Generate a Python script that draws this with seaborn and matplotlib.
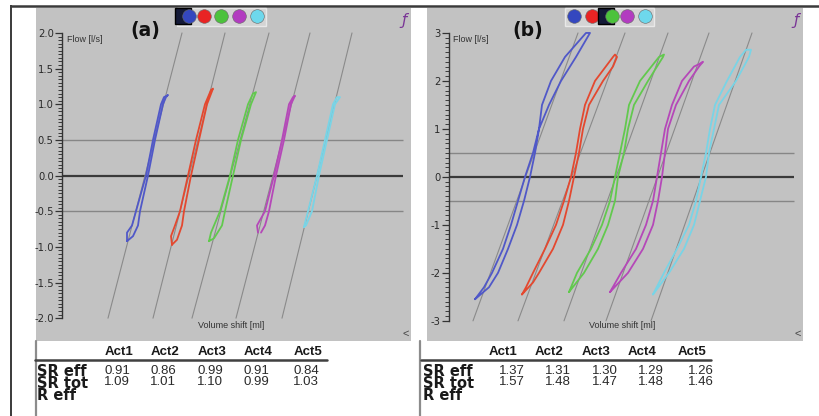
import numpy as np
import pandas as pd
import matplotlib
matplotlib.use("Agg")
import matplotlib.pyplot as plt
from matplotlib.lines import Line2D
from matplotlib.legend_handler import HandlerTuple
import seaborn as sns

# ---------------- data ----------------
ACTS = ["Act1", "Act2", "Act3", "Act4", "Act5"]
ROWS = ["SR eff", "SR tot", "R eff"]
CURVE_COLORS = ["#5058c8", "#e4482f", "#62c94e", "#b548b8", "#79d4e6"]
LEGEND_COLORS = ["#3447bf", "#e82424", "#4cc23c", "#b23cc0", "#6ed8ec"]

# panel (a)
a_yticks = [-2.0, -1.5, -1.0, -0.5, 0.0, 0.5, 1.0, 1.5, 2.0]
a_ylabels = ["-2.0", "-1.5", "-1.0", "-0.5", "0.0", "0.5", "1.0", "1.5", "2.0"]
a_thresholds = [-0.5, 0.5]
a_ref_flow = [-2.0, 2.0]
a_ref_vol_low = [46, 91, 130, 174, 220]
a_ref_vol_high = [120, 163, 207, 248, 290]
a_flow = [
    [-0.92, -0.8, -0.7, -0.5, 0.0, 0.5, 1.0, 1.1, 1.13, 1.1, 1.0, 0.5, 0.0, -0.5, -0.7, -0.85, -0.92],
    [-0.97, -0.85, -0.7, -0.5, 0.0, 0.5, 1.0, 1.2, 1.22, 1.0, 0.5, 0.0, -0.5, -0.7, -0.9, -0.97],
    [-0.92, -0.8, -0.6, -0.5, 0.0, 0.5, 1.0, 1.15, 1.17, 1.0, 0.5, 0.0, -0.5, -0.7, -0.88, -0.92],
    [-0.8, -0.7, -0.5, 0.0, 0.5, 1.0, 1.1, 1.12, 1.0, 0.5, 0.0, -0.5, -0.7, -0.8],
    [-0.72, -0.5, 0.0, 0.5, 1.0, 1.1, 1.1, 1.0, 0.5, 0.0, -0.5, -0.7, -0.72],
]
a_vol = [
    [65, 65, 70, 74, 84, 91, 99, 102, 106, 104, 101, 93, 86, 78, 76, 71, 65],
    [110, 109, 113, 118, 126, 134, 143, 149, 151, 145, 137, 129, 122, 120, 115, 110],
    [147, 149, 155, 158, 168, 176, 186, 191, 194, 189, 179, 171, 163, 160, 152, 147],
    [196, 195, 203, 212, 220, 227, 231, 233, 229, 222, 214, 207, 203, 199],
    [242, 246, 255, 263, 271, 275, 278, 273, 265, 257, 250, 244, 242],
]
a_sr_eff = ["0.91", "0.86", "0.99", "0.91", "0.84"]
a_sr_tot = ["1.09", "1.01", "1.10", "0.99", "1.03"]

# panel (b)
b_yticks = [-3, -2, -1, 0, 1, 2, 3]
b_ylabels = ["-3", "-2", "-1", "0", "1", "2", "3"]
b_thresholds = [-0.5, 0.5]
b_ref_flow = [-3.0, 3.0]
b_ref_vol_low = [24, 69, 115, 157, 202]
b_ref_vol_high = [129, 176, 219, 260, 303]
b_flow = [
    [-2.55, -2.3, -2.0, -1.5, -1.0, -0.5, 0.0, 0.5, 1.0, 1.5, 2.0, 2.5, 3.0,
     3.0, 2.5, 2.0, 1.5, 1.0, 0.5, 0.0, -0.5, -1.0, -1.5, -2.0, -2.3, -2.55],
    [-2.45, -2.2, -2.0, -1.5, -1.0, -0.5, 0.0, 0.5, 1.0, 1.5, 2.0, 2.3, 2.5, 2.55,
     2.5, 2.0, 1.5, 1.0, 0.5, 0.0, -0.5, -1.0, -1.5, -2.0, -2.3, -2.45],
    [-2.4, -2.0, -1.5, -1.0, -0.5, 0.0, 0.5, 1.0, 1.5, 2.0, 2.5, 2.55,
     2.5, 2.0, 1.5, 1.0, 0.5, 0.0, -0.5, -1.0, -1.5, -2.0, -2.4],
    [-2.4, -2.0, -1.5, -1.0, -0.5, 0.0, 0.5, 1.0, 1.5, 2.0, 2.3, 2.4, 2.35,
     2.3, 2.0, 1.5, 1.0, 0.5, 0.0, -0.5, -1.0, -1.5, -2.0, -2.4],
    [-2.45, -2.0, -1.5, -1.0, -0.5, 0.0, 0.5, 1.0, 1.5, 2.0, 2.5, 2.65,
     2.65, 2.5, 2.0, 1.5, 1.0, 0.5, 0.0, -0.5, -1.0, -1.5, -2.0, -2.45],
]
b_vol = [
    [26, 40, 49, 59, 68, 75, 81, 86, 90, 100, 112, 127, 141,
     137, 116, 102, 93, 90, 84, 76, 69, 62, 54, 43, 35, 26],
    [73, 84, 90, 104, 114, 120, 125, 130, 134, 140, 154, 164, 168, 166,
     164, 146, 136, 131, 127, 122, 115, 107, 96, 84, 77, 73],
    [120, 135, 149, 159, 166, 169, 175, 179, 185, 199, 214, 215,
     210, 191, 180, 176, 171, 166, 161, 153, 142, 128, 120],
    [161, 179, 194, 204, 209, 213, 216, 219, 227, 240, 250, 254, 250,
     245, 233, 223, 216, 212, 208, 204, 197, 187, 172, 161],
    [204, 220, 235, 245, 251, 257, 260, 265, 270, 287, 300, 302,
     297, 291, 278, 266, 261, 257, 252, 247, 240, 228, 215, 204],
]
b_sr_eff = ["1.37", "1.31", "1.30", "1.29", "1.26"]
b_sr_tot = ["1.57", "1.48", "1.47", "1.48", "1.46"]

# ---------------- style ----------------
sns.set_style("ticks")
plt.rcParams["font.family"] = ["Liberation Sans", "DejaVu Sans"]

W, H = 819, 416
fig = plt.figure(figsize=(W / 100, H / 100), dpi=100)
fig.patch.set_facecolor("white")

# frame decoration
bg = fig.add_axes([0, 0, 1, 1], zorder=-10)
bg.set_xlim(0, W)
bg.set_ylim(H, 0)
bg.axis("off")
bg.plot([10, W], [5.5, 5.5], color="#3a3a3a", lw=1.8, solid_capstyle="butt")
bg.plot([10.5, 10.5], [5, H], color="#3a3a3a", lw=1.4, solid_capstyle="butt")


def px_axes(x0, y0, x1, y1, **kw):
    return fig.add_axes([x0 / W, (H - y1) / H, (x1 - x0) / W, (y1 - y0) / H], **kw)


def draw_panel(ax, flows, vols, ref_low, ref_high, ref_flow, thresholds,
               yticks, ylabels, ylim, xlim, xline_end, minor_step, selected, leg_x,
               tag, tag_x, flow_x):
    ax.set_facecolor("#c2c2c2")
    ax.hlines(thresholds, 0, xline_end, color="#868686", lw=1.0, zorder=1)
    ax.hlines([0], 0, xline_end, color="#3a3a3a", lw=1.6, zorder=1)
    ref = pd.DataFrame(
        [(act, fl, v) for act, lo, hi in zip(ACTS, ref_low, ref_high)
         for fl, v in zip(ref_flow, (lo, hi))],
        columns=["act", "flow", "vol"])
    sns.lineplot(data=ref, x="vol", y="flow", units="act", estimator=None, sort=False,
                 color="#8a8a8a", lw=0.8, ax=ax, legend=False, zorder=2)
    rows = [(act, k, f, v) for act, fs, vs in zip(ACTS, flows, vols)
            for k, (f, v) in enumerate(zip(fs, vs))]
    df = pd.DataFrame(rows, columns=["act", "k", "flow", "vol"])
    sns.lineplot(data=df, x="vol", y="flow", hue="act", palette=CURVE_COLORS,
                 units="act", estimator=None, sort=False, lw=1.3, ax=ax, legend=False,
                 zorder=3)
    ax.set_xlabel("")
    ax.set_ylabel("")
    ax.set_xlim(*xlim)
    ax.set_ylim(*ylim)
    for s in ["top", "right", "bottom"]:
        ax.spines[s].set_visible(False)
    ax.spines["left"].set_position(("data", 0))
    ax.spines["left"].set_bounds(yticks[0], yticks[-1])
    ax.spines["left"].set_color("#333333")
    ax.spines["left"].set_linewidth(1.0)
    ax.set_xticks([])
    ax.set_yticks(yticks)
    ax.set_yticklabels(ylabels, family="DejaVu Sans")
    minor = np.round(np.arange(yticks[0], yticks[-1] + 1e-9, minor_step), 3)
    ax.set_yticks(minor, minor=True)
    ax.tick_params(axis="y", which="major", left=True, direction="out", length=5,
                   width=0.9, color="#333333", labelsize=7.2, labelcolor="#2a2a2a", pad=1)
    ax.tick_params(axis="y", which="minor", left=True, direction="out", length=2.6,
                   width=0.7, color="#3a3a3a")
    ax.tick_params(axis="x", which="both", bottom=False, top=False)
    ax.text(flow_x, 0.904, "Flow [l/s]", transform=ax.transAxes,
            fontsize=6.5, color="#333333", ha="left", va="center")
    ax.text(0.52, 0.048, "Volume shift [ml]", transform=ax.transAxes,
            fontsize=6.5, color="#333333", ha="center", va="center")
    ax.text(tag_x, 0.932, tag, transform=ax.transAxes, family="DejaVu Sans",
            fontsize=13.5, fontweight="bold", color="#111111", ha="center", va="center")
    ax.text(0.982, 0.962, "ƒ", transform=ax.transAxes, fontsize=11, color="#7a3596",
            ha="center", va="center", fontstyle="italic", family="DejaVu Sans")
    ax.text(0.985, 0.02, "<", transform=ax.transAxes, fontsize=8, color="#444444",
            ha="center", va="center")
    handles = []
    for i, c in enumerate(LEGEND_COLORS):
        circ = Line2D([], [], ls="none", marker="o", ms=9.8, mfc=c, mec="#666666", mew=0.4)
        if i == selected:
            sq = Line2D([], [], ls="none", marker="s", ms=12, mfc="#141a38",
                        mec="#000000", mew=1.0)
            handles.append((sq, circ))
        else:
            handles.append(circ)
    ax.legend(handles, [""] * len(handles), ncol=5, loc="upper left",
              bbox_to_anchor=(leg_x, 1.0), borderaxespad=0,
              handler_map={tuple: HandlerTuple(ndivide=None, pad=0)},
              frameon=True, fancybox=False, facecolor="#d4d4d4", edgecolor="#e8e8e8",
              framealpha=1, borderpad=0.25, handlelength=1.1, handletextpad=0,
              columnspacing=0.5, handleheight=1.4, fontsize=8)


def draw_table(tab, width, eff, tot, hdr_x, val_dx, label_x):
    tab.set_xlim(0, width)
    tab.set_ylim(75, 0)
    tab.axis("off")
    tab.plot([0, 0], [0, 75], color="#8c8c8c", lw=1.6, clip_on=False)
    for j, act in enumerate(ACTS):
        tab.text(hdr_x[j], 14, act, ha="center", va="baseline", fontsize=9.5,
                 fontweight="bold", color="#1a1a1a")
    tab.plot([label_x - 2, hdr_x[-1] + 19], [18.5, 18.5], color="#404040", lw=1.8,
             clip_on=False)
    tab.text(label_x, 23.0, "\n".join(ROWS), ha="left", va="top", fontsize=10.5,
             fontweight="bold", color="#1a1a1a", family="DejaVu Sans", linespacing=0.73)
    for j in range(len(ACTS)):
        tab.text(hdr_x[j] + val_dx, 24.2, eff[j] + "\n" + tot[j], ha="center", va="top",
                 fontsize=9.5, color="#2a2a2a", linespacing=0.9)


axa = px_axes(36, 8, 411, 341)
draw_panel(axa, a_flow, a_vol, a_ref_vol_low, a_ref_vol_high, a_ref_flow, a_thresholds,
           a_yticks, a_ylabels, (-2.32, 2.35), (-26, 349), 341, 0.05, 0, 0.376,
           "(a)", 0.291, 0.083)
axb = px_axes(427, 8, 803, 341)
draw_panel(axb, b_flow, b_vol, b_ref_vol_low, b_ref_vol_high, b_ref_flow, b_thresholds,
           b_yticks, b_ylabels, (-3.42, 3.52), (-22, 354), 345, 0.1, 2, 0.367,
           "(b)", 0.269, 0.07)

HDR_X = [83, 129, 176, 222, 272]
taba = px_axes(36, 341, 411, 416)
draw_table(taba, 375, a_sr_eff, a_sr_tot, HDR_X, -2, 1)
tabb = px_axes(420, 341, 803, 416)
draw_table(tabb, 383, b_sr_eff, b_sr_tot, HDR_X, 9, 3)

fig.savefig("out.png", dpi=100, facecolor="white")
